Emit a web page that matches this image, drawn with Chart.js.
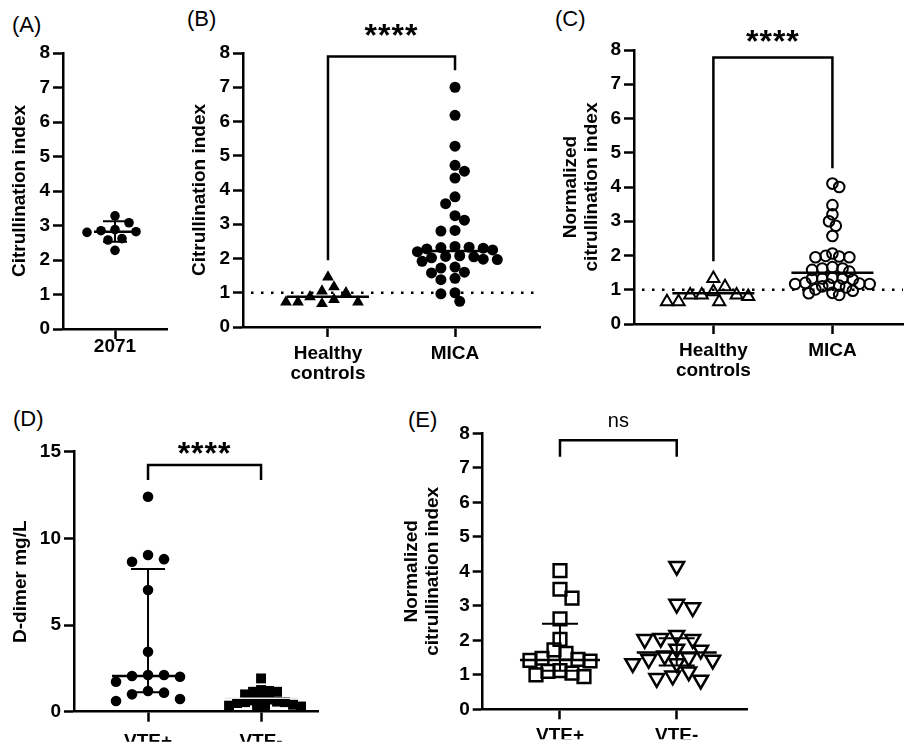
<!DOCTYPE html>
<html><head><meta charset="utf-8">
<script src="https://cdn.jsdelivr.net/npm/chart.js@4.4.0/dist/chart.umd.min.js"></script>
<style>
html,body{margin:0;padding:0;background:#fff;}
#fig{position:relative;width:912px;height:744px;overflow:hidden;background:#fff;font-family:"Liberation Sans",Arial,Helvetica,sans-serif;}
#fig canvas{position:absolute;}
.lab{position:absolute;font-size:22px;line-height:1;color:#000;white-space:nowrap;}
</style></head><body>
<div id="fig">
  <div class="lab" style="left:12px;top:14px">(A)</div>
  <div class="lab" style="left:187px;top:7.5px">(B)</div>
  <div class="lab" style="left:555px;top:7.5px">(C)</div>
  <div class="lab" style="left:13px;top:407.5px">(D)</div>
  <div class="lab" style="left:408px;top:409px">(E)</div>
</div>
<script>
// ---------------- DATA ----------------
// Panel A
const catsA = ['2071'];
const citA = [3.28, 3.08, 2.88, 2.85, 2.82, 2.80, 2.62, 2.58, 2.28];
const medA = [2.82];
const lowA = [2.53];
const highA = [3.12];
const ticksA = [0, 1, 2, 3, 4, 5, 6, 7, 8];

// Panel B
const catsB = [['Healthy', 'controls'], 'MICA'];
const hcB = [1.46, 1.17, 1.05, 1.00, 0.88, 0.80, 0.73, 0.73, 0.73, 0.68];
const micaB = [7.00, 6.18, 5.28, 4.72, 4.55, 4.35, 3.80, 3.60, 3.25, 3.12, 2.82, 2.80,
  2.35, 2.33, 2.32, 2.30, 2.28, 2.25, 2.20, 2.08, 2.06, 2.05, 2.02, 1.98, 1.97, 1.92,
  1.75, 1.72, 1.60, 1.58, 1.42, 1.38, 1.00, 0.97, 0.75];
const medB = [0.88, 2.22];
const bracketB = [7.9, 1.95, 7.5];   // top, left leg end, right leg end

// Panel C
const catsC = [['Healthy', 'controls'], 'MICA'];
const hcC = [1.33, 1.09, 0.94, 0.85, 0.85, 0.85, 0.80, 0.65, 0.65, 0.65];
const micaC = [4.10, 4.00, 3.47, 3.20, 3.00, 2.87, 2.57, 2.06, 1.99, 1.97, 1.95, 1.95,
  1.66, 1.62, 1.62, 1.58, 1.53, 1.35, 1.33, 1.33, 1.33, 1.30, 1.20, 1.18, 1.17, 1.17,
  1.15, 1.12, 1.10, 1.07, 1.01, 0.97, 0.91, 0.90, 0.85];
const medC = [0.90, 1.50];
const bracketC = [7.78, 1.83, 4.55];

// Panel D
const catsD = ['VTE+', 'VTE-'];
const vtePosD = [12.4, 9.04, 8.80, 8.65, 7.02, 3.46, 2.12, 2.12, 2.06, 2.02, 1.73, 1.19, 1.10, 1.00, 0.73, 0.62];
const vteNegD = [1.92, 1.25, 1.20, 1.15, 1.15, 1.00, 0.75, 0.70, 0.65, 0.58, 0.55, 0.55, 0.50, 0.40, 0.35, 0.35, 0.30, 0.30];
const medD = [2.06, 0.78];
const lowD = [1.12, null];
const highD = [8.23, null];
const bracketD = [14.23, 13.37, 13.37];
const ticksD = [0, 5, 10, 15];

// Panel E
const catsE = ['VTE+', 'VTE-'];
const vtePosE = [4.02, 3.48, 3.22, 2.62, 2.03, 1.72, 1.62, 1.48, 1.45, 1.42, 1.40, 1.12, 1.10, 1.05, 1.00, 0.95];
const vteNegE = [4.15, 3.05, 2.95, 2.15, 2.06, 2.03, 2.03, 1.75, 1.72, 1.55, 1.50, 1.45, 1.43, 1.33, 1.33, 1.09, 0.97, 0.90, 0.85];
const medE = [1.43, 1.65];
const lowE = [1.12, 1.27];
const highE = [2.48, 2.06];
const bracketE = [7.80, 7.32, 7.32];

const refLine = 1;

// ---------------- RENDERING ----------------
const FONT = '"Liberation Sans", Arial, Helvetica, sans-serif';
const fig = document.getElementById('fig');

// simple deterministic beeswarm: returns pixel offsets for each value
function swarm(values, pxPerUnit, minDist, step) {
  const order = values.map((v, i) => i).sort((a, b) => values[b] - values[a]);
  const placed = [];
  const offs = new Array(values.length).fill(0);
  let flip = 1;
  for (const i of order) {
    const yy = values[i] * pxPerUnit;
    for (let k = 0; k < 400; k++) {
      const m = Math.ceil(k / 2) * (k % 2 === 1 ? flip : -flip);
      const xx = m * step;
      if (placed.every(p => Math.hypot(p.x - xx, p.y - yy) >= minDist)) {
        placed.push({ x: xx, y: yy });
        offs[i] = xx;
        if (m !== 0) flip = -flip;
        break;
      }
    }
  }
  return offs;
}

function makePanel(p) {
  const [l, t, w, h] = p.rect;
  const A = p.area;
  const pxX = (A.r - A.l) / (p.xr[1] - p.xr[0]);
  const pxY = (A.b - A.t) / (p.yr[1] - p.yr[0]);
  const cv = document.createElement('canvas');
  cv.width = w; cv.height = h;
  cv.style.left = l + 'px'; cv.style.top = t + 'px';
  cv.style.width = w + 'px'; cv.style.height = h + 'px';
  fig.appendChild(cv);

  const datasets = p.groups.map((g, gi) => {
    const offs = swarm(g.values, pxY, g.minDist, g.step);
    return {
      data: g.values.map((v, i) => ({ x: gi + offs[i] / pxX, y: v })),
      pointStyle: g.style,
      pointRadius: g.r,
      pointHoverRadius: g.r,
      pointRotation: g.rot || 0,
      pointBackgroundColor: g.fill,
      pointBorderColor: '#000',
      pointBorderWidth: g.bw,
      showLine: false,
      clip: false
    };
  });

  const ov = {
    id: 'ov' + p.id,
    beforeDatasetsDraw(chart) {
      if (p.ref == null) return;
      const { ctx, chartArea: a, scales: { y } } = chart;
      const yy = y.getPixelForValue(p.ref);
      ctx.save();
      ctx.setLineDash([2.5, 7.5]);
      ctx.lineWidth = 2.5;
      ctx.strokeStyle = '#000';
      ctx.beginPath(); ctx.moveTo(a.left + 8, yy); ctx.lineTo(a.right, yy); ctx.stroke();
      ctx.restore();
    },
    afterDatasetsDraw(chart) {
      const { ctx, scales: { x, y } } = chart;
      ctx.save();
      ctx.lineCap = 'butt';
      p.med.forEach((m, i) => {
        const cx = x.getPixelForValue(i);
        const col = (p.medColor && p.medColor[i]) || '#000';
        if (p.low && p.low[i] != null) {
          const y1 = y.getPixelForValue(p.low[i]), y2 = y.getPixelForValue(p.high[i]);
          ctx.strokeStyle = col; ctx.lineWidth = 2;
          ctx.beginPath();
          ctx.moveTo(cx, y1); ctx.lineTo(cx, y2);
          ctx.moveTo(cx - p.cw, y1); ctx.lineTo(cx + p.cw, y1);
          ctx.moveTo(cx - p.cw, y2); ctx.lineTo(cx + p.cw, y2);
          ctx.stroke();
        }
        const ym = y.getPixelForValue(m);
        ctx.strokeStyle = col; ctx.lineWidth = (p.medW && p.medW[i]) || 2.5;
        ctx.beginPath(); ctx.moveTo(cx - p.mw, ym); ctx.lineTo(cx + p.mw, ym); ctx.stroke();
      });
      if (p.bracket) {
        const x0 = x.getPixelForValue(0), x1 = x.getPixelForValue(1);
        const yt = y.getPixelForValue(p.bracket[0]);
        ctx.strokeStyle = '#000'; ctx.lineWidth = 2.5; ctx.lineJoin = 'miter';
        ctx.beginPath();
        ctx.moveTo(x0, y.getPixelForValue(p.bracket[1]));
        ctx.lineTo(x0, yt); ctx.lineTo(x1, yt);
        ctx.lineTo(x1, y.getPixelForValue(p.bracket[2]));
        ctx.stroke();
        ctx.fillStyle = '#000';
        ctx.font = p.sigFont;
        ctx.textAlign = 'center';
        ctx.textBaseline = 'alphabetic';
        if ('letterSpacing' in ctx) ctx.letterSpacing = p.sigSpacing || '0px';
        ctx.fillText(p.sig, (x0 + x1) / 2, yt - p.sigDy);
      }
      ctx.restore();
    }
  };

  const XH = p.xh;
  return new Chart(cv, {
    type: 'scatter',
    data: { datasets },
    options: {
      responsive: false, animation: false, devicePixelRatio: 1,
      events: [],
      layout: { padding: { left: 0, top: A.t - t, right: (l + w) - A.r, bottom: (t + h) - A.b - XH } },
      plugins: { legend: { display: false }, tooltip: { enabled: false } },
      scales: {
        x: {
          type: 'linear', min: p.xr[0], max: p.xr[1],
          afterBuildTicks: s => { s.ticks = p.cats.map((c, i) => ({ value: i })); },
          afterFit: s => { s.height = XH; },
          ticks: {
            callback: v => p.cats[v], color: '#000', autoSkip: false, maxRotation: 0,
            font: { family: FONT, size: 19, weight: 'bold', lineHeight: 1.05 }, padding: p.xPad
          },
          grid: { drawOnChartArea: false, drawTicks: true, tickLength: 10, tickWidth: 2.5, color: '#000' },
          border: { display: true, width: 2.5, color: '#000' }
        },
        y: {
          min: p.yr[0], max: p.yr[1],
          afterBuildTicks: s => { s.ticks = p.yTicks.map(v => ({ value: v })); },
          afterFit: s => { s.width = A.l - l; },
          ticks: { color: '#000', autoSkip: false, font: { family: FONT, size: 19, weight: 'bold' }, padding: 3 },
          grid: { drawOnChartArea: false, drawTicks: true, tickLength: 10, tickWidth: 2.5, color: '#000' },
          border: { display: true, width: 2.5, color: '#000' },
          title: {
            display: true, text: p.title, color: '#000',
            font: { family: FONT, size: 19, weight: 'bold', lineHeight: 1.1 },
            padding: { top: p.titlePad, bottom: 0 }
          }
        }
      }
    },
    plugins: [ov]
  });
}

const STARFONT = 'bold 32px ' + FONT;

// Panel A
makePanel({
  id: 'A', rect: [0, 0, 178, 395], area: { l: 63, t: 53, r: 167, b: 329 },
  xr: [-1, 1], yr: [0, 8], yTicks: ticksA, cats: catsA, xh: 60, xPad: -2,
  title: 'Citrullination index', titlePad: 9.5,
  groups: [{ values: citA, style: 'circle', r: 4.8, fill: '#000', bw: 0, minDist: 10.5, step: 7 }],
  med: medA, low: lowA, high: highA, mw: 21, cw: 12
});

// Panel B
makePanel({
  id: 'B', rect: [178, 0, 372, 395], area: { l: 243, t: 53, r: 540, b: 327 },
  xr: [-0.669, 1.669], yr: [0, 8], yTicks: ticksA, cats: catsB, xh: 60, xPad: 7,
  title: 'Citrullination index', titlePad: 11.5, ref: refLine,
  groups: [
    { values: hcB, style: 'triangle', r: 6.8, fill: '#000', bw: 0, minDist: 11.5, step: 6 },
    { values: micaB, style: 'circle', r: 5.5, fill: '#000', bw: 0, minDist: 9.5, step: 4.7 }
  ],
  med: medB, mw: 41, bracket: bracketB, sig: '****', sigFont: STARFONT, sigSpacing: '1px', sigDy: 10
});

// Panel C
makePanel({
  id: 'C', rect: [550, 0, 362, 395], area: { l: 634, t: 50, r: 912, b: 324 },
  xr: [-0.667, 1.593], yr: [0, 8], yTicks: ticksA, cats: catsC, xh: 60, xPad: 7,
  title: ['Normalized', 'citrullination index'], titlePad: 10.5, ref: refLine,
  groups: [
    { values: hcC, style: 'triangle', r: 7, fill: 'rgba(0,0,0,0)', bw: 2, minDist: 11.5, step: 6 },
    { values: micaC, style: 'circle', r: 5.3, fill: 'rgba(0,0,0,0)', bw: 2, minDist: 7.2, step: 3.5 }
  ],
  med: medC, mw: 41, bracket: bracketC, sig: '****', sigFont: STARFONT, sigSpacing: '1px', sigDy: 6
});

// Panel D
makePanel({
  id: 'D', rect: [0, 395, 380, 349], area: { l: 74, t: 451.7, r: 318, b: 711.7 },
  xr: [-0.655, 1.504], yr: [0, 15], yTicks: ticksD, cats: catsD, xh: 30, xPad: 10,
  title: 'D-dimer mg/L', titlePad: 10.5,
  groups: [
    { values: vtePosD, style: 'circle', r: 5.3, fill: '#000', bw: 0, minDist: 14, step: 8 },
    { values: vteNegD, style: 'rect', r: 7, fill: '#000', bw: 0, minDist: 7, step: 4 }
  ],
  med: medD, low: lowD, high: highD, mw: 36, cw: 17, medColor: ['#000', '#e8e8e8'], medW: [2.5, 1.5],
  bracket: bracketD, sig: '****', sigFont: STARFONT, sigSpacing: '1px', sigDy: 1
});

// Panel E
makePanel({
  id: 'E', rect: [380, 395, 532, 349], area: { l: 482.7, t: 433.3, r: 747, b: 709.3 },
  xr: [-0.662, 1.602], yr: [0, 8], yTicks: ticksA, cats: catsE, xh: 30, xPad: 6,
  title: ['Normalized', 'citrullination index'], titlePad: 21.5,
  groups: [
    { values: vtePosE, style: 'rect', r: 9, fill: 'rgba(0,0,0,0)', bw: 2.5, minDist: 12, step: 6 },
    { values: vteNegE, style: 'triangle', r: 8.5, rot: 180, fill: 'rgba(0,0,0,0)', bw: 2.5, minDist: 13, step: 4 }
  ],
  med: medE, low: lowE, high: highE, mw: 40, cw: 18,
  bracket: bracketE, sig: 'ns', sigFont: '20px ' + FONT, sigDy: 13
});
</script>
</body></html>
